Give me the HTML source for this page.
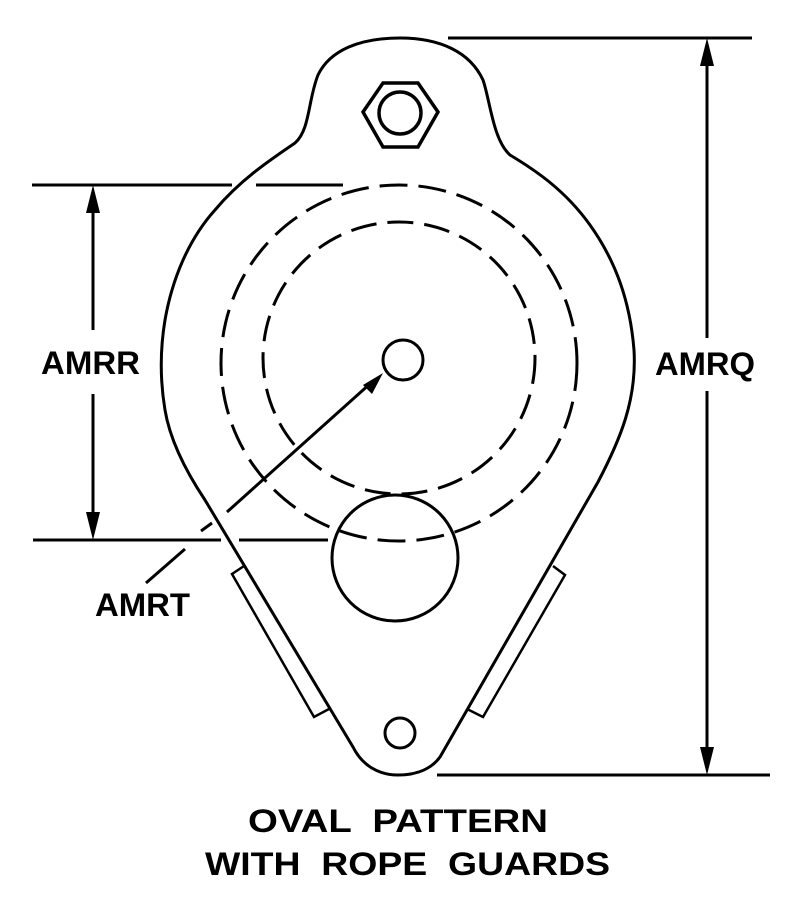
<!DOCTYPE html>
<html><head><meta charset="utf-8"><style>html,body{margin:0;padding:0;background:#fff}svg{display:block}text{white-space:pre}</style></head>
<body>
<svg width="792" height="902" viewBox="0 0 792 902" xmlns="http://www.w3.org/2000/svg">
<g fill="none" stroke="#000" stroke-width="3">
<path d="M353,747 L205,500 C185,470 170,440 165,410 C160,380 160,350 165,320 C172,280 188,240 215,210 C240,180 270,160 295,143 C310,130 308,100 318,75 C330,50 360,38 400,38 C440,38 470,52 483,80 C490,100 493,140 510,155 C535,170 565,190 590,225 C615,260 630,300 634,350 C637,400 620,440 598,482 L440,757 C432,768 418,775 398,775 C378,775 362,765 353,747 Z"/>
<polygon points="363,112 383,83 418,83 438,112 418,147 383,147" stroke-width="3.5"/>
<circle cx="400" cy="113" r="21" stroke-width="3.5"/>
<circle cx="399" cy="363" r="178" stroke-dasharray="28,11"/>
<circle cx="399" cy="358" r="136" stroke-dasharray="26,11"/>
<circle cx="403" cy="360" r="20"/>
<circle cx="395" cy="558" r="63"/>
<circle cx="400" cy="733" r="15"/>
<polyline points="244,566 232,574 314,717 329,709" stroke-width="2.5"/>
<polyline points="553,566 565,575 483,717 467,709" stroke-width="2.5"/>
<line x1="448" y1="38" x2="752" y2="38"/>
<line x1="437" y1="775" x2="770" y2="775"/>
<line x1="707" y1="50" x2="707" y2="338"/>
<line x1="707" y1="391" x2="707" y2="762"/>
<line x1="32" y1="185" x2="232" y2="185"/>
<line x1="256" y1="185" x2="343" y2="185"/>
<line x1="33" y1="540" x2="221" y2="540"/>
<line x1="239" y1="540" x2="328" y2="540"/>
<line x1="93" y1="197" x2="93" y2="330"/>
<line x1="93" y1="394" x2="93" y2="528"/>
<line x1="372" y1="382" x2="227" y2="512"/>
<line x1="201" y1="531" x2="212" y2="523"/>
<line x1="185" y1="549" x2="146" y2="583"/>
</g>
<g fill="#000">
<polygon points="707,38 700,66 714,66"/>
<polygon points="707,775 700,747 714,747"/>
<polygon points="93,185 86,213 100,213"/>
<polygon points="93,540 86,512 100,512"/>
<polygon points="383,373 363,385 372,394"/>
</g>
<g font-family="Liberation Sans, Arial, sans-serif" font-weight="bold" font-size="32" fill="#000">
<text x="41" y="374" textLength="99" lengthAdjust="spacingAndGlyphs">AMRR</text>
<text x="655" y="375" textLength="100" lengthAdjust="spacingAndGlyphs">AMRQ</text>
<text x="95" y="616" textLength="95" lengthAdjust="spacingAndGlyphs">AMRT</text>
<text x="248" y="832" textLength="300" lengthAdjust="spacingAndGlyphs" xml:space="preserve">OVAL  PATTERN</text>
<text x="205" y="875" textLength="405" lengthAdjust="spacingAndGlyphs" xml:space="preserve">WITH  ROPE  GUARDS</text>
</g>
</svg>
</body></html>
